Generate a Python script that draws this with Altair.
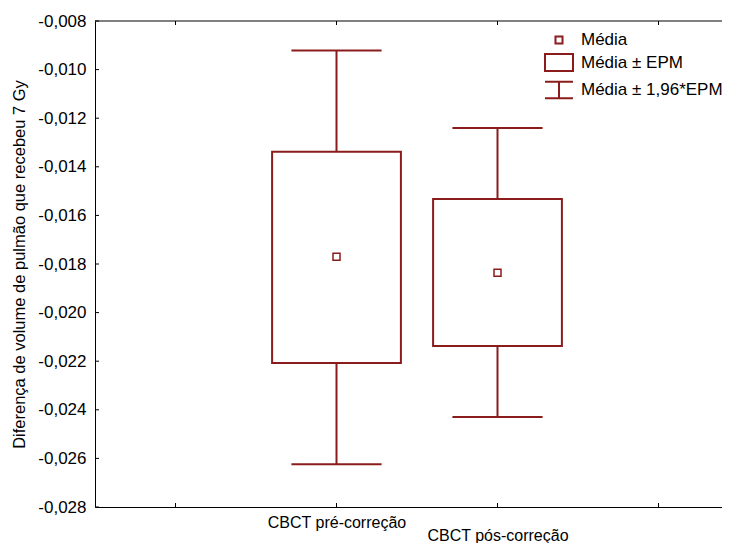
import altair as alt
import pandas as pd

# ---- data ----
categories = ["CBCT pré-correção", "CBCT pós-correção"]
means = [-0.01770, -0.01836]
box_upper = [-0.01338, -0.01532]      # média + EPM
box_lower = [-0.02207, -0.02137]      # média - EPM
whisker_upper = [-0.00921, -0.01240]  # média + 1,96*EPM
whisker_lower = [-0.02624, -0.02430]  # média - 1,96*EPM
legend_labels = ["Média", "Média ± EPM", "Média ± 1,96*EPM"]
y_ticks = [-0.008, -0.010, -0.012, -0.014, -0.016, -0.018, -0.020,
           -0.022, -0.024, -0.026, -0.028]
x_ticks = [0, 1, 2, 3]
y_title = "Diferença de volume de pulmão que recebeu 7 Gy"

RED = "#8b1c1c"
FONT = "Liberation Sans"
W, H = 627, 486
PX_PER_UNIT = 161.0
X_MIN = -0.5

df = pd.DataFrame({
    "cat": categories,
    "pos": [i + 1 for i in range(len(categories))],
    "mean": means,
    "box_upper": box_upper,
    "box_lower": box_lower,
    "whisker_upper": whisker_upper,
    "whisker_lower": whisker_lower,
    "key": [legend_labels[0]] * len(categories),
})
yt = pd.DataFrame({"v": y_ticks})
xt = pd.DataFrame({"p": x_ticks})
frame_top = pd.DataFrame({"top": [max(y_ticks)]})

xscale = alt.Scale(domain=[X_MIN, X_MIN + W / PX_PER_UNIT], nice=False, zero=False)
yscale = alt.Scale(domain=[min(y_ticks), max(y_ticks)], nice=False, zero=False)

label_expr_x = " : ".join(
    f"datum.value == {i + 1} ? '{c}'" for i, c in enumerate(categories)
) + " : ''"

x_axis = alt.Axis(
    orient="bottom", values=[i + 1 for i in range(len(categories))],
    labelExpr=label_expr_x, ticks=False, grid=False, domain=True,
    domainColor="black", domainWidth=1, labelOverlap=False, labelFlush=False,
    labelPadding={"condition": {"test": "datum.value == 2", "value": 20}, "value": 7},
    labelFont=FONT, labelFontSize=16, labelColor="black", title=None)

y_axis = alt.Axis(
    orient="left",
    values=y_ticks, ticks=False, grid=False, domain=True,
    domainColor="black", domainWidth=1,
    labelExpr="replace(replace(format(datum.value, '.3f'), '.', ','), '\u2212', '-')",
    labelPadding=9, labelFont=FONT, labelFontSize=17, labelColor="black",
    labelFlush=False, labelOverlap=False,
    title=y_title, titleFont=FONT, titleFontSize=16.5, titleFontWeight="normal",
    titleColor="black", titlePadding=10)


def X(field):
    return alt.X(field, type="quantitative", scale=xscale, axis=x_axis)


def Y(field):
    return alt.Y(field, type="quantitative", scale=yscale, axis=y_axis)


base = alt.Chart(df)

boxes = base.mark_rect(fill="transparent", stroke=RED, strokeWidth=2).transform_calculate(
    xl="datum.pos - 0.4", xr="datum.pos + 0.4"
).encode(x=X("xl"), x2="xr:Q", y=Y("box_upper"), y2="box_lower:Q")

whisk_up = base.mark_rule(color=RED, strokeWidth=2).encode(
    x=X("pos"), y=Y("whisker_upper"), y2="box_upper:Q")
whisk_lo = base.mark_rule(color=RED, strokeWidth=2).encode(
    x=X("pos"), y=Y("box_lower"), y2="whisker_lower:Q")
cap_up = base.mark_rule(color=RED, strokeWidth=2).transform_calculate(
    cl="datum.pos - 0.28", cr="datum.pos + 0.28"
).encode(x=X("cl"), x2="cr:Q", y=Y("whisker_upper"))
cap_lo = base.mark_rule(color=RED, strokeWidth=2).transform_calculate(
    cl="datum.pos - 0.28", cr="datum.pos + 0.28"
).encode(x=X("cl"), x2="cr:Q", y=Y("whisker_lower"))

shape_paths = [
    "M-0.35,-0.35H0.35V0.35H-0.35Z",
    "M-1.4,-0.85H1.4V0.85H-1.4Z",
    "M-1.4,-0.83H1.4M0,-0.83V0.83M-1.4,0.83H1.4",
]
points = base.mark_point(filled=False, color=RED, strokeWidth=1.5, size=400, opacity=1).encode(
    x=X("pos"), y=Y("mean"),
    shape=alt.Shape("key:N", scale=alt.Scale(domain=legend_labels, range=shape_paths),
                    legend=alt.Legend(
                        title=None, orient="none", legendX=453, legendY=8,
                        symbolSize=400, symbolStrokeWidth=2, symbolStrokeColor=RED,
                        symbolFillColor="transparent", symbolOpacity=1,
                        labelFont=FONT, labelFontSize=17, labelColor="black",
                        labelOffset=11, rowPadding=1.5, padding=0,
                        labelLimit=300)),
)

ytick_marks = alt.Chart(yt).mark_rule(color="black", strokeWidth=1).encode(
    y=Y("v"), x=alt.value(0), x2=alt.value(4))
xtick_bottom = alt.Chart(xt).mark_rule(color="black", strokeWidth=1).encode(
    x=X("p"), y=alt.value(H - 4), y2=alt.value(H))
xtick_top = alt.Chart(xt).mark_rule(color="black", strokeWidth=1).encode(
    x=X("p"), y=alt.value(0), y2=alt.value(4))
top_line = alt.Chart(frame_top).mark_rule(color="black", strokeWidth=1).encode(
    y=Y("top"), x=alt.value(0), x2=alt.value(W))

chart = alt.layer(
    boxes, whisk_up, whisk_lo, cap_up, cap_lo, points,
    ytick_marks, xtick_bottom, xtick_top, top_line,
).properties(
    width=W, height=H,
    autosize=alt.AutoSizeParams(type="none"),
    padding={"left": 87, "top": 13, "right": 0, "bottom": 36},
    background="white",
).configure_view(strokeWidth=0)

chart.save("out.html", embed_options={"renderer": "svg", "actions": False})
